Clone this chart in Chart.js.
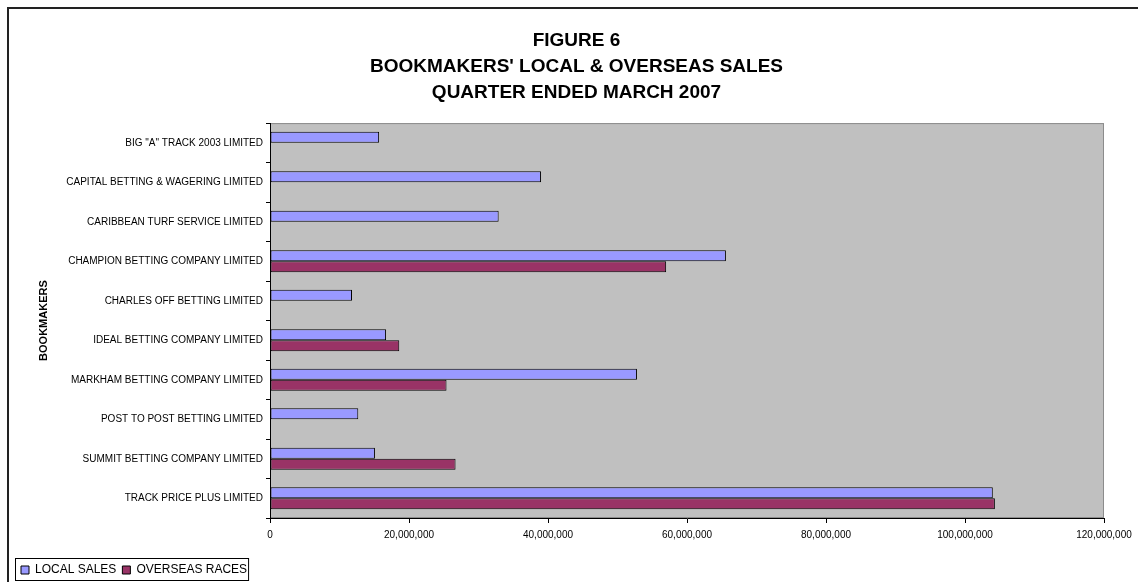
<!DOCTYPE html>
<html>
<head>
<meta charset="utf-8">
<script src="https://cdn.jsdelivr.net/npm/chart.js@4.4.1/dist/chart.umd.min.js"></script>
<style>
    html, body { margin: 0; padding: 0; background: #fff; }
    #wrap { width: 1138px; height: 582px; overflow: hidden; position: relative; }
    #salesChart { position: absolute; left: 0; top: 0; }
</style>
</head>
<body>
<div id="wrap"><canvas id="salesChart" width="1138" height="582"></canvas></div>
<script>
const bookmakers = [
    'BIG "A" TRACK 2003 LIMITED',
    'CAPITAL BETTING & WAGERING LIMITED',
    'CARIBBEAN TURF SERVICE LIMITED',
    'CHAMPION BETTING COMPANY LIMITED',
    'CHARLES OFF BETTING LIMITED',
    'IDEAL BETTING COMPANY LIMITED',
    'MARKHAM BETTING COMPANY LIMITED',
    'POST TO POST BETTING LIMITED',
    'SUMMIT BETTING COMPANY LIMITED',
    'TRACK PRICE PLUS LIMITED'
];
const localSales = [15700000, 39000000, 32900000, 65600000, 11800000, 16700000, 52800000, 12700000, 15100000, 104000000];
const overseasRaces = [null, null, null, 57000000, null, 18600000, 25400000, null, 26700000, 104300000];
const xTicks = [0, 20000000, 40000000, 60000000, 80000000, 100000000, 120000000];
const titleLines = ['FIGURE 6', "BOOKMAKERS' LOCAL & OVERSEAS SALES", 'QUARTER ENDED MARCH 2007'];

const FONT = "'Liberation Sans', Arial, sans-serif";

// page frame, grey plot area and the box round the legend
const backdrop = {
    id: 'backdrop',
    beforeDraw(chart) {
        const ctx = chart.ctx;
        const a = chart.chartArea;
        ctx.save();
        ctx.fillStyle = '#fff';
        ctx.fillRect(0, 0, chart.width, chart.height);
        ctx.strokeStyle = '#222';
        ctx.lineWidth = 2;
        ctx.strokeRect(8, 8, chart.width + 20, chart.height + 20);

        ctx.fillStyle = '#c0c0c0';
        ctx.fillRect(a.left, a.top, a.right - a.left, a.bottom - a.top);
        ctx.strokeStyle = '#8c8c8c';
        ctx.lineWidth = 1;
        ctx.strokeRect(a.left + 0.5, a.top + 0.5, a.right - a.left - 1, a.bottom - a.top - 1);

        const boxes = chart.legend.legendHitBoxes;
        if (boxes && boxes.length) {
            const first = boxes[0];
            const last = boxes[boxes.length - 1];
            const x0 = first.left - 6;
            const x1 = last.left + last.width + 1;
            const y0 = first.top - 6;
            const y1 = Math.min(first.top + first.height + 6, chart.height - 2);
            ctx.fillStyle = '#fff';
            ctx.fillRect(x0, y0, x1 - x0, y1 - y0);
            ctx.strokeStyle = '#000';
            ctx.strokeRect(x0 + 0.5, y0 + 0.5, x1 - x0, y1 - y0);
        }
        ctx.restore();
    }
};

new Chart(document.getElementById('salesChart'), {
    type: 'bar',
    data: {
        labels: bookmakers,
        datasets: [{
            label: 'LOCAL SALES',
            data: localSales,
            backgroundColor: '#9999ff',
            borderColor: '#000',
            borderWidth: 1,
            borderSkipped: false
        }, {
            label: 'OVERSEAS RACES',
            data: overseasRaces,
            backgroundColor: '#993366',
            borderColor: '#000',
            borderWidth: 1,
            borderSkipped: false
        }]
    },
    options: {
        indexAxis: 'y',
        responsive: false,
        animation: false,
        devicePixelRatio: 1,
        categoryPercentage: 0.556,
        barPercentage: 1.0,
        layout: { padding: { left: 15, right: 0, top: 0, bottom: -4 } },
        plugins: {
            title: {
                display: true,
                text: titleLines,
                color: '#000',
                font: { family: FONT, size: 19, weight: 'bold', lineHeight: 1.37 },
                padding: { top: 28, bottom: 17 }
            },
            legend: {
                position: 'bottom',
                align: 'start',
                labels: {
                    color: '#000',
                    boxWidth: 8,
                    boxHeight: 8,
                    padding: 6,
                    font: { family: FONT, size: 12 }
                }
            },
            tooltip: { enabled: false }
        },
        scales: {
            x: {
                type: 'linear',
                position: 'bottom',
                min: 0,
                max: 120000000,
                afterBuildTicks(scale) {
                    scale.ticks = xTicks.map(v => ({ value: v }));
                },
                afterFit(scale) { scale.height = 40; },
                ticks: {
                    color: '#000',
                    padding: 6,
                    maxRotation: 0,
                    font: { family: FONT, size: 10 },
                    callback: v => v.toLocaleString('en-US')
                },
                grid: { drawOnChartArea: false, tickLength: 5, color: '#000' },
                border: { color: '#000', width: 1 }
            },
            y: {
                type: 'category',
                offset: true,
                afterFit(scale) { scale.width = 255; },
                ticks: {
                    color: '#000',
                    padding: 3,
                    font: { family: FONT, size: 10 }
                },
                grid: { drawOnChartArea: false, offset: true, tickLength: 4, color: '#000' },
                border: { color: '#000', width: 1 },
                title: {
                    display: true,
                    text: 'BOOKMAKERS',
                    color: '#000',
                    font: { family: FONT, size: 11, weight: 'bold' },
                    padding: { top: 22, bottom: 0 }
                }
            },
            pad: {
                type: 'linear',
                position: 'right',
                display: true,
                afterFit(scale) { scale.width = 34; },
                ticks: { display: false },
                grid: { display: false },
                border: { display: false }
            }
        }
    },
    plugins: [backdrop]
});
</script>
</body>
</html>
